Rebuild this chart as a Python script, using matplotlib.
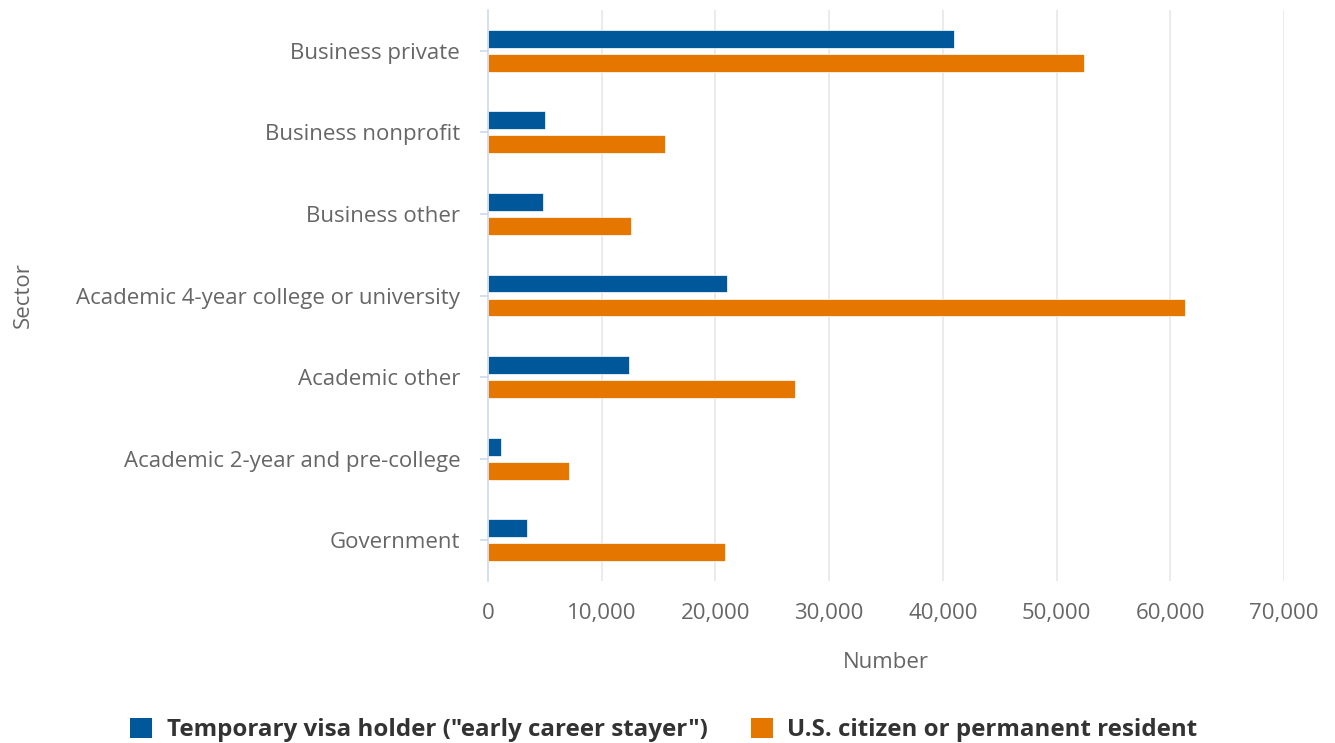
import matplotlib
matplotlib.use("Agg")
import matplotlib.pyplot as plt
from matplotlib.patches import Patch
import numpy as np

categories = ["Business private", "Business nonprofit", "Business other",
              "Academic 4-year college or university", "Academic other",
              "Academic 2-year and pre-college", "Government"]
temp_visa = [41000, 5000, 4800, 21000, 12400, 1100, 3400]
citizen = [52400, 15600, 12600, 61300, 27000, 7100, 20800]
series_names = ['Temporary visa holder ("early career stayer")',
                'U.S. citizen or permanent resident']
xticks = [0, 10000, 20000, 30000, 40000, 50000, 60000, 70000]

BLUE = "#00589b"
ORANGE = "#e57600"
GRID = "#e6e6e6"
AXC = "#ccd6eb"
LBL = "#666666"

plt.rcParams['font.family'] = ['Open Sans', 'DejaVu Sans']

fig = plt.figure(figsize=(13.35, 7.43), dpi=100)
ax = fig.add_axes([488/1335, 1-581/743, (1284-488)/1335, (581-10)/743])

y = np.arange(len(categories))
h = 0.22
off = 0.147
ax.barh(y - off, temp_visa, height=h, color=BLUE, edgecolor='white', linewidth=0.5, zorder=3)
ax.barh(y + off, citizen, height=h, color=ORANGE, edgecolor='white', linewidth=0.5, zorder=3)

ax.set_ylim(len(categories) - 0.5, -0.5)
ax.set_xlim(0, 70000)
ax.set_xticks(xticks)
ax.set_xticklabels([f"{v:,}" for v in xticks])
ax.set_yticks(y)
ax.set_yticklabels(categories)

for v in xticks[1:]:
    ax.axvline(v, color=GRID, lw=1.1, zorder=1)

for s in ['top', 'right', 'bottom']:
    ax.spines[s].set_visible(False)
ax.spines['left'].set_color(AXC)
ax.spines['left'].set_linewidth(1.1)
ax.spines['left'].set_zorder(4)

ax.tick_params(axis='x', length=0, pad=16, labelsize=16, labelcolor=LBL)
ax.tick_params(axis='y', length=6, width=1.1, color=AXC, pad=14, labelsize=16, labelcolor=LBL)

ax.set_xlabel("Number", fontsize=16, color=LBL, labelpad=20)
ax.set_ylabel("Sector", fontsize=16, color=LBL)
ax.yaxis.set_label_coords((34-488)/796, 0.5)

handles = [Patch(facecolor=BLUE, edgecolor='none'), Patch(facecolor=ORANGE, edgecolor='none')]
leg = fig.legend(handles, series_names, loc='center', bbox_to_anchor=(664/1335, 1-730/743),
                 ncol=2, frameon=False, handlelength=0.9, handleheight=0.9,
                 handletextpad=0.6, columnspacing=1.8,
                 prop={'size': 17.4, 'weight': 'bold'})
for t in leg.get_texts():
    t.set_color("#333333")

fig.savefig("out.png", dpi=100)
